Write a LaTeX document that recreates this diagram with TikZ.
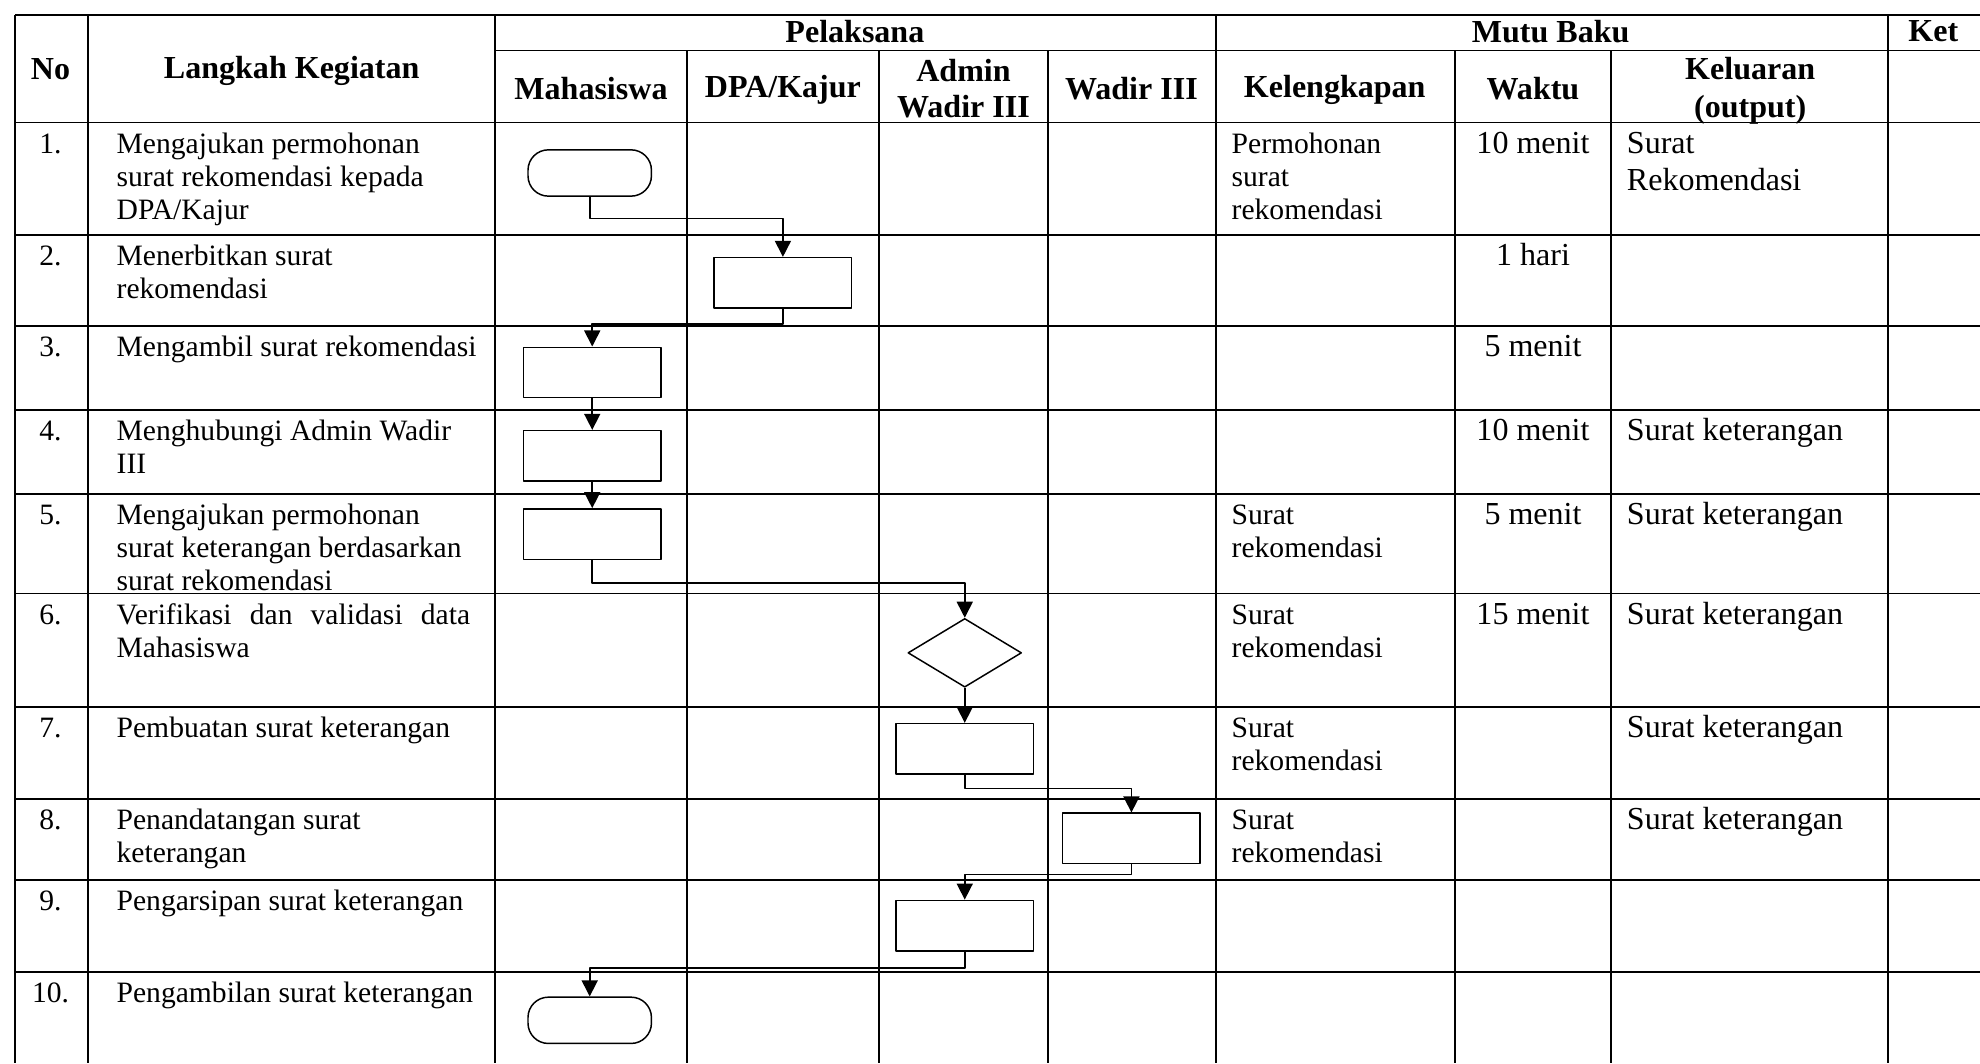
\documentclass[tikz,border=0pt]{standalone}
\usepackage{fontspec}
\setmainfont{Liberation Serif}
\usepackage{tikz}
\usetikzlibrary{arrows.meta, shapes.geometric}
\def\W{1568}
\def\H{842}
% penyangga tinggi baris pertama
\def\cellstrut{\rule{0pt}{9pt}}

\begin{document}
\begin{tikzpicture}[
	% ukuran umum: 1 satuan = 1 px gambar
	x = 0.018cm, y = -0.018cm,
	line join = round,
	% garis tabel
	grid/.style = {line width = 0.75pt},
	% teks judul kolom
	header/.style = {
		font = \fontsize{13}{14.5}\selectfont\bfseries,
		align = center, inner sep = 0pt
	},
	% teks isi sel
	cell/.style = {
		font = \fontsize{12}{13.4}\selectfont,
		anchor = north west, align = left, inner sep = 0pt,
		yshift = -0.04cm
	},
	cellc/.style = {cell, anchor = north, align = center},
	cellb/.style = {cell, font = \fontsize{13}{15.2}\selectfont},
	cellbc/.style = {cellb, anchor = north, align = center},
	% simbol bagan alir
	process/.style = {
		draw, line width = 0.6pt, inner sep = 0pt,
		minimum width = 1.96cm, minimum height = 0.72cm
	},
	terminal/.style = {
		process, rounded corners = 0.29cm,
		minimum width = 1.76cm, minimum height = 0.66cm
	},
	decision/.style = {
		draw, diamond, line width = 0.6pt, inner sep = 0pt,
		minimum width = 1.62cm, minimum height = 0.98cm
	},
	% panah alur
	flow/.style = {
		line width = 0.65pt,
		arrows = -{Triangle[length = 6.5pt, width = 6.5pt]}
	},
]

	\useasboundingbox (0,0) rectangle (\W,\H);

	% garis tabel
	\draw[grid] (12,12) -- (\W,12);
	\draw[grid] (392,40) -- (\W,40);
	\foreach \y in {97,186,258,325,391,470,560,633,697,770}
		\draw[grid] (12,\y) -- (\W,\y);
	\foreach \x in {12,70,392,963,1495}
		\draw[grid] (\x,12) -- (\x,\H);
	\foreach \x in {544,696,830,1152,1276}
		\draw[grid] (\x,40) -- (\x,\H);

	% judul kolom
	\node[header] (hNo)  at (40,55)   {No};
	\node[header] (hLk)  at (231,56)  {Langkah Kegiatan};
	\node[header] (hPl)  at (677,25)  {Pelaksana};
	\node[header] (hMb)  at (1228,25) {Mutu Baku};
	\node[header] (hKt)  at (1531,25) {Ket};
	\node[header] (hMhs) at (468,70)  {Mahasiswa};
	\node[header] (hDpa) at (620,71)  {DPA/Kajur};
	\node[header] (hAdm) at (763,70)  {Admin\\Wadir III};
	\node[header] (hWd)  at (896,70)  {Wadir III};
	\node[header] (hKl)  at (1057,71) {Kelengkapan};
	\node[header] (hWk)  at (1214,70) {Waktu};
	\node[header] (hOut) at (1386,72) {Keluaran\\[1pt](output)};

	% nomor
	\node[cellc] (n1)  at (40,101) {\cellstrut 1.};
	\node[cellc] (n2)  at (40,190) {\cellstrut 2.};
	\node[cellc] (n3)  at (40,262) {\cellstrut 3.};
	\node[cellc] (n4)  at (40,329) {\cellstrut 4.};
	\node[cellc] (n5)  at (40,395) {\cellstrut 5.};
	\node[cellc] (n6)  at (40,474) {\cellstrut 6.};
	\node[cellc] (n7)  at (40,564) {\cellstrut 7.};
	\node[cellc] (n8)  at (40,637) {\cellstrut 8.};
	\node[cellc] (n9)  at (40,701) {\cellstrut 9.};
	\node[cellc] (n10) at (40,774) {\cellstrut 10.};

	% langkah kegiatan
	\node[cell] (k1)  at (92,101) {\cellstrut Mengajukan permohonan\\surat rekomendasi kepada\\DPA/Kajur};
	\node[cell] (k2)  at (92,190) {\cellstrut Menerbitkan surat\\rekomendasi};
	\node[cell] (k3)  at (92,262) {\cellstrut Mengambil surat rekomendasi};
	\node[cell] (k4)  at (92,329) {\cellstrut Menghubungi Admin Wadir\\III};
	\node[cell] (k5)  at (92,395) {\cellstrut Mengajukan permohonan\\surat keterangan berdasarkan\\surat rekomendasi};
	\node[cell] (k6)  at (92,474) {\cellstrut\makebox[5.04cm][s]{Verifikasi dan validasi data}\\Mahasiswa};
	\node[cell] (k7)  at (92,564) {\cellstrut Pembuatan surat keterangan};
	\node[cell] (k8)  at (92,637) {\cellstrut Penandatangan surat\\keterangan};
	\node[cell] (k9)  at (92,701) {\cellstrut Pengarsipan surat keterangan};
	\node[cell] (k10) at (92,774) {\cellstrut Pengambilan surat keterangan};

	% kelengkapan
	\node[cell] (l1) at (975,101) {\cellstrut Permohonan\\surat\\rekomendasi};
	\node[cell] (l5) at (975,395) {\cellstrut Surat\\rekomendasi};
	\node[cell] (l6) at (975,474) {\cellstrut Surat\\rekomendasi};
	\node[cell] (l7) at (975,564) {\cellstrut Surat\\rekomendasi};
	\node[cell] (l8) at (975,637) {\cellstrut Surat\\rekomendasi};

	% waktu
	\node[cellbc] (w1) at (1214,101) {\cellstrut 10 menit};
	\node[cellbc] (w2) at (1214,190) {\cellstrut 1 hari};
	\node[cellbc] (w3) at (1214,262) {\cellstrut 5 menit};
	\node[cellbc] (w4) at (1214,329) {\cellstrut 10 menit};
	\node[cellbc] (w5) at (1214,395) {\cellstrut 5 menit};
	\node[cellbc] (w6) at (1214,474) {\cellstrut 15 menit};

	% keluaran
	\node[cellb] (o1) at (1288,101) {\cellstrut Surat\\Rekomendasi};
	\node[cellb] (o4) at (1288,329) {\cellstrut Surat keterangan};
	\node[cellb] (o5) at (1288,395) {\cellstrut Surat keterangan};
	\node[cellb] (o6) at (1288,474) {\cellstrut Surat keterangan};
	\node[cellb] (o7) at (1288,564) {\cellstrut Surat keterangan};
	\node[cellb] (o8) at (1288,637) {\cellstrut Surat keterangan};

	% simbol bagan alir
	\node[terminal] (t1)  at (467,137) {};
	\node[process]  (p2)  at (620,224) {};
	\node[process]  (p3)  at (469,295) {};
	\node[process]  (p4)  at (469,361) {};
	\node[process]  (p5)  at (469,423) {};
	\node[decision] (d6)  at (764,517) {};
	\node[process]  (p7)  at (764,593) {};
	\node[process]  (p8)  at (896,664) {};
	\node[process]  (p9)  at (764,733) {};
	\node[terminal] (t10) at (467,808) {};

	% alur
	\draw[flow] (t1.south) -- ++(0,17) -| (p2.north);
	\draw[flow] (p2.south) -- ++(0,12) -| (p3.north);
	\draw[flow] (p3) -- (p4);
	\draw[flow] (p4) -- (p5);
	\draw[flow] (p5.south) -- ++(0,18) -| (d6.north);
	\draw[flow] (d6) -- (p7);
	\draw[flow] (p7.south) -- ++(0,11) -| (p8.north);
	\draw[flow] (p8.south) -- ++(0,8) -| (p9.north);
	\draw[flow] (p9.south) -- ++(0,13) -| (t10.north);

\end{tikzpicture}
\end{document}
